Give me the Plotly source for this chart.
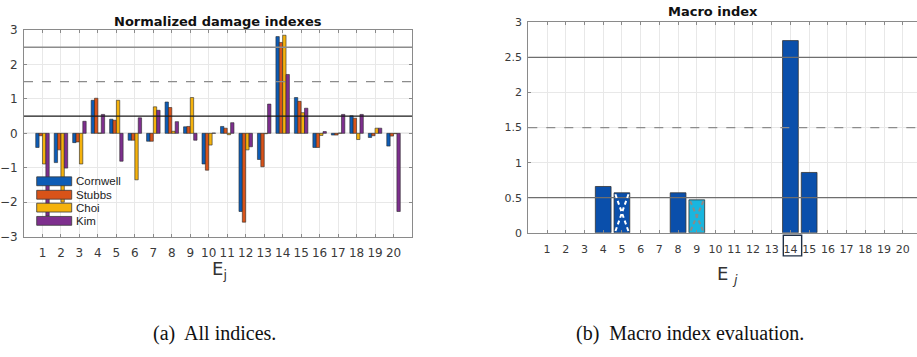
import plotly.graph_objects as go

# Element indices
elements = list(range(1, 21))

# Normalized damage indexes per method
series_names = ["Cornwell", "Stubbs", "Choi", "Kim"]
cornwell = [-0.41, -0.85, -0.27, 0.96, 0.41, -0.20, -0.23, 0.91, 0.19, -0.89,
            0.20, -2.27, -0.76, 2.81, 1.04, -0.41, -0.05, 0.51, -0.12, -0.37]
stubbs = [-0.07, -0.48, -0.25, 1.02, 0.38, -0.20, -0.23, 0.75, 0.20, -1.07,
          0.15, -2.58, -0.97, 2.64, 0.93, -0.41, -0.05, 0.44, -0.07, -0.08]
choi = [-0.89, -2.00, -0.89, 0.01, 0.96, -1.35, 0.77, 0.06, 1.04, -0.34,
        -0.04, -0.48, -0.01, 2.85, 0.60, -0.06, 0.01, -0.18, 0.15, -0.01]
kim = [-2.40, -1.01, 0.35, 0.55, -0.81, 0.45, 0.67, 0.34, -0.20, 0.01,
       0.31, -0.39, 0.85, 1.71, 0.73, 0.05, 0.55, 0.55, 0.15, -2.27]
series_values = [cornwell, stubbs, choi, kim]
series_colors = ["#0d5cb6", "#d95319", "#f5b20c", "#7e2f8e"]

# Macro index (only flagged elements are non-zero)
macro_elements = [4, 5, 8, 9, 14, 15]
macro_values = [0.66, 0.57, 0.57, 0.47, 2.74, 0.86]
macro_colors = ["#0a4fab", "#0a4fab", "#0a4fab", "#19b6df", "#0a4fab", "#0a4fab"]
hatched = {5: "white", 9: "#8a8a8a"}
boxed_element = 14

# Threshold levels: (value, dash, colour)
thresholds_left = [(0.5, "solid", "#1a1a1a"), (1.5, "dash", "#8c8c8c"), (2.5, "solid", "#8c8c8c")]
thresholds_right = [(0.5, "solid", "#6e6e6e"), (1.5, "dash", "#8c8c8c"), (2.5, "solid", "#6e6e6e")]

W, H = 917, 357
FONT = "DejaVu Sans"
TICK_COLOR = "#3a3a3a"

def px_x(p):
    return p / W

def px_y(p):
    return 1 - p / H

fig = go.Figure()

for name, vals, col in zip(series_names, series_values, series_colors):
    fig.add_trace(go.Bar(
        x=elements, y=vals, name=name, marker_color=col,
        marker_line=dict(color="#2a2a2a", width=0.6),
        xaxis="x", yaxis="y", showlegend=False,
    ))

fig.add_trace(go.Bar(
    x=macro_elements, y=macro_values, width=[0.84] * len(macro_elements),
    marker_color=macro_colors, marker_line=dict(color="#333333", width=0.8),
    xaxis="x2", yaxis="y2", showlegend=False,
))

axis_common = dict(
    showline=True, linecolor="#8a8a8a", linewidth=1,
    ticks="inside", ticklen=3, tickcolor="#8a8a8a",
    showgrid=True, gridcolor="#e8e8e8", gridwidth=1,
    tickfont=dict(family=FONT, size=11, color=TICK_COLOR),
    zeroline=False,
)

fig.update_layout(
    width=W, height=H, margin=dict(l=0, r=0, t=0, b=0),
    paper_bgcolor="white", plot_bgcolor="white",
    barmode="group", bargap=0.27, bargroupgap=0.0,
    xaxis=dict(domain=[px_x(24), px_x(412)], range=[0, 21], tickvals=elements,
               mirror="ticks", anchor="y", ticklabelstandoff=5,
               **{**axis_common, "tickfont": dict(family=FONT, size=12, color=TICK_COLOR)}),
    yaxis=dict(domain=[px_y(239), px_y(24)], range=[-3, 3], tickvals=list(range(-3, 4)),
               mirror="ticks", anchor="x", ticklabelstandoff=3,
               **{**axis_common, "tickfont": dict(family=FONT, size=12, color=TICK_COLOR)}),
    xaxis2=dict(domain=[px_x(528.3), 1.0], range=[0, 20.76], tickvals=elements,
                mirror="ticks", anchor="y2", ticklabelstandoff=6, **axis_common),
    yaxis2=dict(domain=[px_y(235), px_y(16)], range=[0, 3],
                tickvals=[0, 0.5, 1, 1.5, 2, 2.5, 3], ticktext=["0", "0.5", "1", "1.5", "2", "2.5", "3"],
                mirror=False, anchor="x2", ticklabelstandoff=3, **axis_common),
)

shapes = []
# zero baseline on the left panel
shapes.append(dict(type="line", xref="x domain", yref="y", x0=0, x1=1, y0=0, y1=0,
                   line=dict(color="#9a9a9a", width=1), layer="below"))
for val, dash, col in thresholds_left:
    shapes.append(dict(type="line", xref="x domain", yref="y", x0=0, x1=1, y0=val, y1=val,
                       line=dict(color=col, width=1.3, dash=dash), layer="above"))
for val, dash, col in thresholds_right:
    shapes.append(dict(type="line", xref="x2 domain", yref="y2", x0=0, x1=1, y0=val, y1=val,
                       line=dict(color=col, width=1.3, dash=dash), layer="above"))

# dashed cross on hatched macro bars
half = 0.84 / 2 - 0.07
for e, v in zip(macro_elements, macro_values):
    if e in hatched:
        c = hatched[e]
        for xa, xb in [(e - half, e + half), (e + half, e - half)]:
            shapes.append(dict(type="line", xref="x2", yref="y2", x0=xa, x1=xb, y0=v - 0.02, y1=0.02,
                               line=dict(color=c, width=2, dash="4px,3px"), layer="above"))

# box around the selected element tick label
shapes.append(dict(type="rect", xref="x2", yref="paper",
                   x0=boxed_element - 0.38, x1=boxed_element + 0.6,
                   y0=px_y(259), y1=px_y(237.5),
                   line=dict(color="#1f2f45", width=1.4)))

# legend swatches for the left panel
legend_rows = [181.4, 195.4, 208.8, 222.6]
annotations = []
for name, col, yc in zip(series_names, series_colors, legend_rows):
    shapes.append(dict(type="rect", xref="paper", yref="paper",
                       x0=px_x(36.7), x1=px_x(71.7), y0=px_y(yc + 4.6), y1=px_y(yc - 4.6),
                       fillcolor=col, line=dict(color="#3a3a3a", width=0.8), layer="above"))
    annotations.append(dict(text=name, xref="paper", yref="paper", x=px_x(74), y=px_y(yc),
                            xanchor="left", yanchor="middle", showarrow=False,
                            font=dict(family="Liberation Sans", size=11.5, color="#222222")))

annotations += [
    dict(text="<b>Normalized damage indexes</b>", xref="paper", yref="paper",
         x=px_x(218), y=px_y(15), xanchor="center", yanchor="middle", showarrow=False,
         font=dict(family=FONT, size=13, color="#111111")),
    dict(text="<b>Macro index</b>", xref="paper", yref="paper",
         x=px_x(713), y=px_y(5), xanchor="center", yanchor="middle", showarrow=False,
         font=dict(family=FONT, size=13, color="#111111")),
    dict(text="E<sub>j</sub>", xref="paper", yref="paper",
         x=px_x(219), y=px_y(274), xanchor="center", yanchor="middle", showarrow=False,
         font=dict(family=FONT, size=18, color="#333333")),
    dict(text="E <sub><i>j</i></sub>", xref="paper", yref="paper",
         x=px_x(727), y=px_y(279), xanchor="center", yanchor="middle", showarrow=False,
         font=dict(family=FONT, size=18, color="#333333")),
    dict(text="(a)  All indices.", xref="paper", yref="paper",
         x=px_x(214), y=px_y(340), xanchor="center", yanchor="middle", showarrow=False,
         font=dict(family="Liberation Serif", size=20, color="#111111")),
    dict(text="(b)  Macro index evaluation.", xref="paper", yref="paper",
         x=px_x(690), y=px_y(340), xanchor="center", yanchor="middle", showarrow=False,
         font=dict(family="Liberation Serif", size=20, color="#111111")),
]

fig.update_layout(shapes=shapes, annotations=annotations)
fig.write_html("out.html")
